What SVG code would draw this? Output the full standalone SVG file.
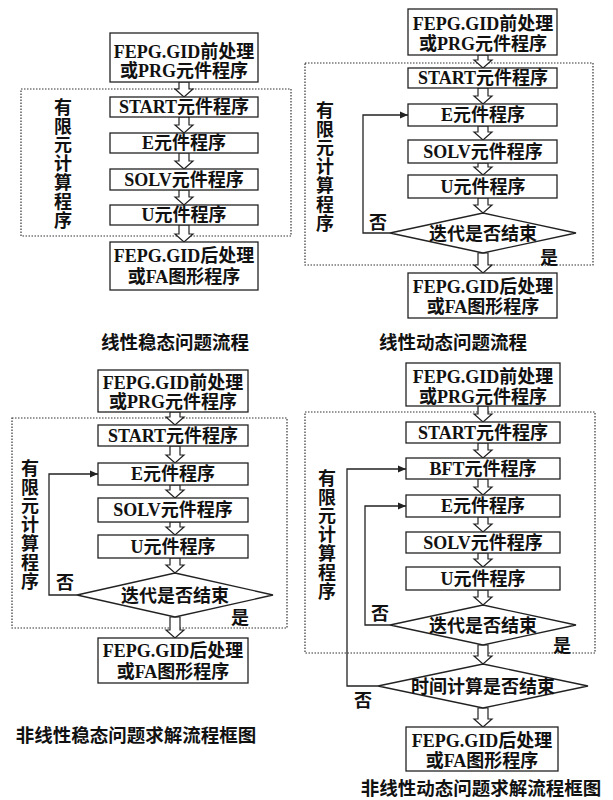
<svg xmlns="http://www.w3.org/2000/svg" width="613" height="800" viewBox="0 0 613 800">
<style>
.box{fill:#fff;stroke:#222;stroke-width:1.3}
.dot{fill:none;stroke:#333;stroke-width:1.2;stroke-dasharray:1.5 1.5}
.ha{fill:#fff;stroke:#222;stroke-width:1.2;stroke-linejoin:miter}
.ln{fill:none;stroke:#222;stroke-width:1.3}
.t{font-family:"Liberation Serif","Noto Sans CJK SC",serif;font-weight:bold;font-size:18px;fill:#111;text-anchor:middle}
.v{font-family:"Noto Sans CJK SC",sans-serif;font-weight:bold;font-size:18px;fill:#111;writing-mode:vertical-rl;letter-spacing:0.8px}
.c{font-family:"Noto Sans CJK SC","Liberation Sans",sans-serif;font-weight:bold;font-size:18.5px;fill:#111;text-anchor:middle}
</style>
<defs>
<marker id="ah" markerWidth="8" markerHeight="8" refX="8" refY="4" orient="auto" markerUnits="userSpaceOnUse">
<path d="M0,0.5 L8,4 L0,7.5 Z" fill="#222"/>
</marker>
</defs>
<rect width="613" height="800" fill="#fff"/>

<!-- Diagram 1: linear steady -->
<g id="d1-frame"><rect class="dot" x="21" y="89" width="270" height="147"/></g>
<g id="d1-label"><text class="v" x="63" y="98">有限元计算程序</text></g>
<g id="d1-connectors">
<polygon class="ha" points="179,82 189,82 189,89 193,89 184,97 175,89 179,89"/>
<polygon class="ha" points="179,117 189,117 189,125 193,125 184,133 175,125 179,125"/>
<polygon class="ha" points="179,153 189,153 189,161 193,161 184,169 175,161 179,161"/>
<polygon class="ha" points="179,190 189,190 189,197 193,197 184,205 175,197 179,197"/>
<polygon class="ha" points="179,225 189,225 189,234 193,234 184,242 175,234 179,234"/>
</g>
<g id="d1-pre"><rect class="box" x="110" y="33" width="148" height="49"/><text class="t" x="184" y="58">FEPG.GID前处理</text><text class="t" x="184" y="77">或PRG元件程序</text></g>
<g id="d1-start"><rect class="box" x="110" y="97" width="148" height="20"/><text class="t" x="184" y="113">START元件程序</text></g>
<g id="d1-e"><rect class="box" x="110" y="133" width="148" height="20"/><text class="t" x="184" y="149">E元件程序</text></g>
<g id="d1-solv"><rect class="box" x="110" y="169" width="148" height="21"/><text class="t" x="184" y="186">SOLV元件程序</text></g>
<g id="d1-u"><rect class="box" x="110" y="205" width="148" height="20"/><text class="t" x="184" y="221">U元件程序</text></g>
<g id="d1-post"><rect class="box" x="110" y="242" width="148" height="48"/><text class="t" x="184" y="262">FEPG.GID后处理</text><text class="t" x="184" y="283">或FA图形程序</text></g>
<g id="d1-caption"><text class="c" x="175" y="349">线性稳态问题流程</text></g>

<!-- Diagram 2: linear dynamic -->
<g id="d2-frame"><rect class="dot" x="305" y="63" width="288" height="202"/></g>
<g id="d2-label"><text class="v" x="325" y="101">有限元计算程序</text></g>
<g id="d2-connectors">
<polygon class="ha" points="478,55 488,55 488,60 492,60 483,68 474,60 478,60"/>
<polygon class="ha" points="478,88 488,88 488,96 492,96 483,104 474,96 478,96"/>
<polygon class="ha" points="478,126 488,126 488,132 492,132 483,140 474,132 478,132"/>
<polygon class="ha" points="478,163 488,163 488,167 492,167 483,175 474,167 478,167"/>
<polygon class="ha" points="478,198 488,198 488,205 492,205 483,213 474,205 478,205"/>
<polygon class="ha" points="478,253 488,253 488,265 492,265 483,273 474,265 478,265"/>
<polyline class="ln" points="390,233 363,233 363,115 408,115" marker-end="url(#ah)"/>
<text class="t" x="378" y="229">否</text>
<text class="t" x="549" y="264">是</text>
</g>
<g id="d2-pre"><rect class="box" x="408" y="9" width="149" height="46"/><text class="t" x="483" y="30">FEPG.GID前处理</text><text class="t" x="483" y="50">或PRG元件程序</text></g>
<g id="d2-start"><rect class="box" x="408" y="68" width="149" height="20"/><text class="t" x="483" y="84">START元件程序</text></g>
<g id="d2-e"><rect class="box" x="408" y="104" width="149" height="22"/><text class="t" x="483" y="121">E元件程序</text></g>
<g id="d2-solv"><rect class="box" x="408" y="140" width="149" height="23"/><text class="t" x="483" y="158">SOLV元件程序</text></g>
<g id="d2-u"><rect class="box" x="408" y="175" width="149" height="23"/><text class="t" x="483" y="193">U元件程序</text></g>
<g id="d2-iter"><polygon class="box" points="483,213 576,233 483,253 390,233"/><text class="t" x="483" y="240">迭代是否结束</text></g>
<g id="d2-post"><rect class="box" x="408" y="273" width="149" height="45"/><text class="t" x="483" y="293">FEPG.GID后处理</text><text class="t" x="483" y="313">或FA图形程序</text></g>
<g id="d2-caption"><text class="c" x="453" y="349">线性动态问题流程</text></g>

<!-- Diagram 3: nonlinear steady -->
<g id="d3-frame"><rect class="dot" x="12" y="418" width="275" height="210"/></g>
<g id="d3-label"><text class="v" x="30" y="459">有限元计算程序</text></g>
<g id="d3-connectors">
<polygon class="ha" points="170,412 180,412 180,417 184,417 175,425 166,417 170,417"/>
<polygon class="ha" points="170,446 180,446 180,455 184,455 175,463 166,455 170,455"/>
<polygon class="ha" points="170,485 180,485 180,490 184,490 175,498 166,490 170,490"/>
<polygon class="ha" points="170,522 180,522 180,527 184,527 175,535 166,527 170,527"/>
<polygon class="ha" points="170,558 180,558 180,565 184,565 175,573 166,565 170,565"/>
<polygon class="ha" points="170,617 180,617 180,630 184,630 175,638 166,630 170,630"/>
<polyline class="ln" points="77,595 49,595 49,474 98,474" marker-end="url(#ah)"/>
<text class="t" x="65" y="589">否</text>
<text class="t" x="240" y="624">是</text>
</g>
<g id="d3-pre"><rect class="box" x="98" y="370" width="150" height="42"/><text class="t" x="173" y="389">FEPG.GID前处理</text><text class="t" x="173" y="408">或PRG元件程序</text></g>
<g id="d3-start"><rect class="box" x="98" y="425" width="150" height="21"/><text class="t" x="173" y="442">START元件程序</text></g>
<g id="d3-e"><rect class="box" x="98" y="463" width="150" height="22"/><text class="t" x="173" y="480">E元件程序</text></g>
<g id="d3-solv"><rect class="box" x="98" y="498" width="150" height="24"/><text class="t" x="173" y="516">SOLV元件程序</text></g>
<g id="d3-u"><rect class="box" x="98" y="535" width="150" height="23"/><text class="t" x="173" y="553">U元件程序</text></g>
<g id="d3-iter"><polygon class="box" points="175,573 273,595 175,617 77,595"/><text class="t" x="175" y="602">迭代是否结束</text></g>
<g id="d3-post"><rect class="box" x="98" y="638" width="150" height="45"/><text class="t" x="173" y="657">FEPG.GID后处理</text><text class="t" x="173" y="678">或FA图形程序</text></g>
<g id="d3-caption"><text class="c" x="136" y="742">非线性稳态问题求解流程框图</text></g>

<!-- Diagram 4: nonlinear dynamic -->
<g id="d4-frame"><rect class="dot" x="305" y="412" width="290" height="241"/></g>
<g id="d4-label"><text class="v" x="327" y="469">有限元计算程序</text></g>
<g id="d4-connectors">
<polygon class="ha" points="478,406 488,406 488,414 492,414 483,422 474,414 478,414"/>
<polygon class="ha" points="478,443 488,443 488,450 492,450 483,458 474,450 478,450"/>
<polygon class="ha" points="478,479 488,479 488,487 492,487 483,495 474,487 478,487"/>
<polygon class="ha" points="478,517 488,517 488,524 492,524 483,532 474,524 478,524"/>
<polygon class="ha" points="478,553 488,553 488,559 492,559 483,567 474,559 478,559"/>
<polygon class="ha" points="478,590 488,590 488,597 492,597 483,605 474,597 478,597"/>
<polygon class="ha" points="478,645 488,645 488,656 492,656 483,664 474,656 478,656"/>
<polygon class="ha" points="478,708 488,708 488,719 492,719 483,727 474,719 478,719"/>
<polyline class="ln" points="390,625 365,625 365,506 406,506" marker-end="url(#ah)"/>
<polyline class="ln" points="378,686 347,686 347,469 406,469" marker-end="url(#ah)"/>
<text class="t" x="380" y="620">否</text>
<text class="t" x="562" y="652">是</text>
<text class="t" x="363" y="707">否</text>
</g>
<g id="d4-pre"><rect class="box" x="406" y="363" width="154" height="43"/><text class="t" x="483" y="383">FEPG.GID前处理</text><text class="t" x="483" y="403">或PRG元件程序</text></g>
<g id="d4-start"><rect class="box" x="406" y="422" width="154" height="21"/><text class="t" x="483" y="439">START元件程序</text></g>
<g id="d4-bft"><rect class="box" x="406" y="458" width="154" height="21"/><text class="t" x="483" y="475">BFT元件程序</text></g>
<g id="d4-e"><rect class="box" x="406" y="495" width="154" height="22"/><text class="t" x="483" y="512">E元件程序</text></g>
<g id="d4-solv"><rect class="box" x="406" y="532" width="154" height="21"/><text class="t" x="483" y="549">SOLV元件程序</text></g>
<g id="d4-u"><rect class="box" x="406" y="567" width="154" height="23"/><text class="t" x="483" y="585">U元件程序</text></g>
<g id="d4-iter"><polygon class="box" points="483,605 576,625 483,645 390,625"/><text class="t" x="483" y="632">迭代是否结束</text></g>
<g id="d4-time"><polygon class="box" points="483,664 588,686 483,708 378,686"/><text class="t" x="483" y="693">时间计算是否结束</text></g>
<g id="d4-post"><rect class="box" x="406" y="727" width="152" height="44"/><text class="t" x="482" y="747">FEPG.GID后处理</text><text class="t" x="482" y="767">或FA图形程序</text></g>
<g id="d4-caption"><text class="c" x="481" y="795">非线性动态问题求解流程框图</text></g>
</svg>
